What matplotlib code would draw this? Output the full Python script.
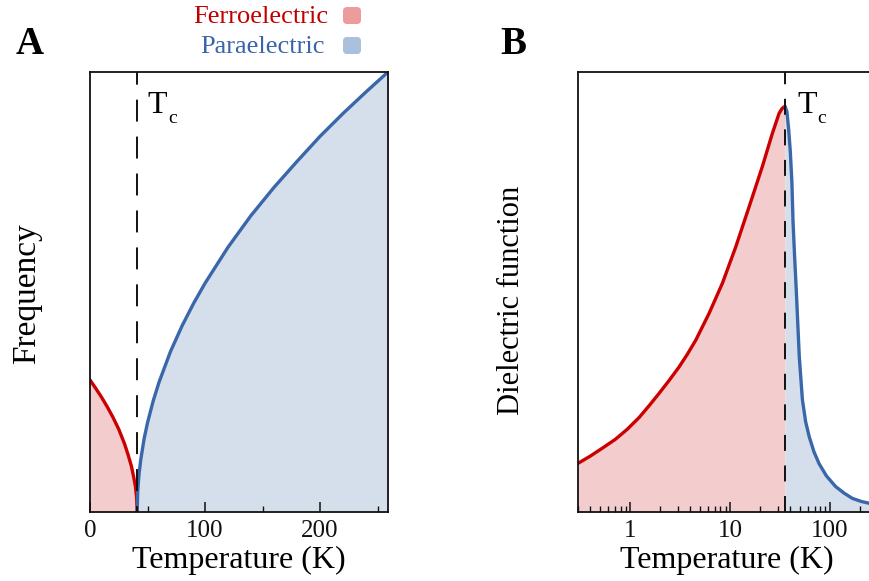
import matplotlib
matplotlib.use("Agg")
import matplotlib.pyplot as plt
from matplotlib.patches import FancyBboxPatch
from matplotlib.ticker import LogLocator, NullFormatter, FixedLocator

# ---------------- data ----------------
# Panel A: soft-mode frequency vs temperature (normalised units)
a_ferro_T = [0, 5, 10, 15, 20, 25, 30, 33, 36, 38, 39.5, 40.5, 41]
a_ferro_f = [0.300, 0.281, 0.261, 0.239, 0.215, 0.188, 0.155, 0.131, 0.104, 0.079, 0.058, 0.033, 0.0]
a_para_T = [41, 41.5, 42.5, 44, 47, 50, 55, 60, 70, 80, 90, 100, 120, 140, 160, 180, 200, 220, 240, 259]
a_para_f = [0.0, 0.048, 0.083, 0.117, 0.166, 0.203, 0.253, 0.295, 0.365, 0.423, 0.474, 0.52,
            0.602, 0.674, 0.738, 0.797, 0.854, 0.906, 0.955, 1.0]
a_Tc = 41
a_xticks = [0, 100, 200]
a_xminor = [50, 150, 250]

# Panel B: dielectric function vs temperature (log T)
b_ferro_T = [0.302, 0.398, 0.525, 0.708, 0.933, 1.23, 1.55, 1.95, 2.45, 3.09, 3.74, 4.54,
             6.17, 8.37, 11.4, 15.5, 21.0, 26.5, 30.9, 33.1, 34.7, 35.5]
b_ferro_e = [0.111, 0.127, 0.145, 0.165, 0.188, 0.215, 0.242, 0.270, 0.299, 0.330, 0.359, 0.391,
             0.452, 0.520, 0.603, 0.694, 0.785, 0.861, 0.906, 0.917, 0.921, 0.921]
b_para_T = [35.5, 37, 38.5, 40, 41.5, 42.6, 44.2, 45.9, 47.5, 49.2, 52.9, 57, 61.9, 69, 77.6,
            92, 113.5, 138, 167, 205, 245, 260]
b_para_e = [0.921, 0.91, 0.87, 0.82, 0.75, 0.66, 0.58, 0.505, 0.43, 0.353, 0.255, 0.205, 0.171,
            0.137, 0.11, 0.082, 0.058, 0.043, 0.031, 0.024, 0.020, 0.019]
b_Tc = 35.5
b_xticks = [1, 10, 100]
b_xticklabels = ["1", "10", "100"]

legend_labels = ["Ferroelectric", "Paraelectric"]

# ---------------- style ----------------
RED = "#cc0000"
BLUE = "#3a66aa"
RED_FILL = "#f3cdcd"
BLUE_FILL = "#d5dfeb"
RED_PATCH = "#eb9c9c"
BLUE_PATCH = "#abc0dc"
RED_TEXT = "#c00000"
BLUE_TEXT = "#3b65a8"

plt.rcParams["font.family"] = ["Liberation Serif", "DejaVu Serif"]
plt.rcParams["lines.scale_dashes"] = False

W, H = 870, 581
fig = plt.figure(figsize=(W / 100, H / 100), dpi=100)


def px_axes(l, t, r, b):
    return [l / W, 1 - b / H, (r - l) / W, (b - t) / H]


axA = fig.add_axes(px_axes(90, 72, 388, 512))
axB = fig.add_axes(px_axes(578, 72, 871, 512))

for ax in (axA, axB):
    for s in ax.spines.values():
        s.set_linewidth(1.3)
        s.set_color("#111111")
    ax.set_yticks([])
    ax.set_ylim(0, 1)
    ax.tick_params(axis="x", which="major", direction="in", length=7.5, width=1.1,
                   labelsize=18, pad=6, colors="#111111")
    ax.tick_params(axis="x", which="minor", direction="in", length=4.2, width=1.0,
                   colors="#111111")

# Panel A
axA.fill_between(a_ferro_T, a_ferro_f, 0, color=RED_FILL, lw=0)
axA.fill_between(a_para_T, a_para_f, 0, color=BLUE_FILL, lw=0)
axA.plot(a_ferro_T, a_ferro_f, color=RED, lw=2.4, solid_capstyle="round")
axA.plot(a_para_T, a_para_f, color=BLUE, lw=2.4, solid_capstyle="round")
axA.axvline(a_Tc, color="#111111", lw=1.4, linestyle=(11.5, (15.8, 10.8)),
            dash_capstyle="butt")
axA.set_xlim(0, 259)
axA.set_xticks(a_xticks)
axA.set_xticklabels([str(v) for v in a_xticks])
axA.xaxis.set_minor_locator(FixedLocator(a_xminor))
axA.text(49.6, 0.907, "T", fontsize=23, ha="left", va="baseline")
axA.text(68.0, 0.884, "c", fontsize=14, ha="left", va="baseline")

# Panel B
axB.set_xscale("log")
axB.fill_between(b_ferro_T, b_ferro_e, 0, color=RED_FILL, lw=0)
axB.fill_between(b_para_T, b_para_e, 0, color=BLUE_FILL, lw=0)
axB.plot(b_ferro_T, b_ferro_e, color=RED, lw=2.4, solid_capstyle="round")
axB.plot(b_para_T, b_para_e, color=BLUE, lw=2.4, solid_capstyle="round")
axB.axvline(b_Tc, color="#111111", lw=1.4, linestyle=(0, (11.5, 10.5)),
            dash_capstyle="butt")
axB.set_xlim(0.3, 257)
axB.set_xticks(b_xticks)
axB.set_xticklabels(b_xticklabels)
axB.xaxis.set_minor_locator(LogLocator(base=10, subs=[2, 3, 4, 5, 6, 7, 8, 9], numticks=20))
axB.xaxis.set_minor_formatter(NullFormatter())
axB.text(46.8, 0.907, "T", fontsize=23, ha="left", va="baseline")
axB.text(74.5, 0.884, "c", fontsize=14, ha="left", va="baseline")

# axis labels
fig.text(239 / W, 1 - 568 / H, "Temperature (K)", ha="center", va="baseline", fontsize=23)
fig.text(727 / W, 1 - 568 / H, "Temperature (K)", ha="center", va="baseline", fontsize=23)
fig.text(27 / W, 1 - 294 / H, "Frequency", ha="center", va="center", rotation=90, fontsize=24)
fig.text(512 / W, 1 - 300 / H, "Dielectric function", ha="center", va="center", rotation=90,
         fontsize=22)

# panel letters
fig.text(30 / W, 1 - 54 / H, "A", ha="center", va="baseline", fontsize=28, fontweight="bold")
fig.text(513 / W, 1 - 54 / H, "B", ha="center", va="baseline", fontsize=28, fontweight="bold")

# legend
fig.text(328 / W, 1 - 23 / H, legend_labels[0], ha="right", va="baseline", fontsize=19,
         color=RED_TEXT)
fig.text(325 / W, 1 - 53 / H, legend_labels[1], ha="right", va="baseline", fontsize=19,
         color=BLUE_TEXT)
for ytop, col in ((7, RED_PATCH), (37, BLUE_PATCH)):
    p = FancyBboxPatch((343 / 100, (H - ytop - 17) / 100), 0.18, 0.17,
                       boxstyle="round,pad=0,rounding_size=0.04",
                       transform=fig.dpi_scale_trans, facecolor=col, edgecolor="none")
    fig.add_artist(p)

fig.savefig("out.png", dpi=100)
